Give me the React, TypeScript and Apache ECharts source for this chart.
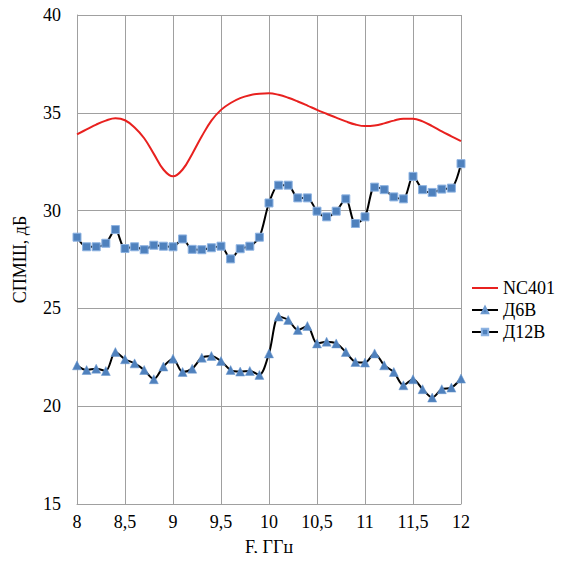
import React, { useEffect, useRef } from "react";
import * as echarts from "echarts";

const freqs = [8, 8.1, 8.2, 8.3, 8.4, 8.5, 8.6, 8.7, 8.8, 8.9, 9, 9.1, 9.2, 9.3, 9.4, 9.5, 9.6, 9.7, 9.8, 9.9, 10,
  10.1, 10.2, 10.3, 10.4, 10.5, 10.6, 10.7, 10.8, 10.9, 11, 11.1, 11.2, 11.3, 11.4, 11.5, 11.6, 11.7, 11.8, 11.9, 12];

const d12v = [28.64, 28.15, 28.15, 28.33, 29.03, 28.06, 28.15, 28.0, 28.23, 28.18, 28.15, 28.55, 28.02, 28.0, 28.1,
  28.18, 27.53, 28.05, 28.18, 28.64, 30.39, 31.3, 31.3, 30.65, 30.65, 29.97, 29.68, 29.97, 30.6, 29.34, 29.68,
  31.2, 31.07, 30.7, 30.6, 31.75, 31.07, 30.93, 31.1, 31.15, 32.4];

const d6v = [22.09, 21.85, 21.92, 21.8, 22.77, 22.4, 22.19, 21.85, 21.38, 22.03, 22.43, 21.75, 21.92, 22.48, 22.57,
  22.31, 21.85, 21.77, 21.8, 21.6, 22.7, 24.58, 24.41, 23.9, 24.1, 23.21, 23.3, 23.21, 22.77, 22.26, 22.23,
  22.7, 22.09, 21.75, 21.07, 21.38, 20.87, 20.44, 20.87, 20.95, 21.41];

const nc401 = [33.9, 34.15, 34.4, 34.6, 34.72, 34.62, 34.25, 33.7, 32.9, 32.1, 31.75, 32.1, 32.9, 33.8, 34.6,
  35.15, 35.5, 35.75, 35.9, 35.98, 36.0, 35.92, 35.77, 35.58, 35.37, 35.15, 34.95, 34.75, 34.56, 34.4, 34.32,
  34.35, 34.46, 34.6, 34.7, 34.7, 34.56, 34.32, 34.05, 33.8, 33.55];

const xTicks = { min: 8, max: 12, interval: 0.5 };
const yTicks = { min: 15, max: 40, interval: 5 };

const FONT = "serif";
const BLUE = "#4f81bd";
const RED = "#e8211f";

export default function App() {
  const ref = useRef<HTMLDivElement>(null);
  useEffect(() => {
    if (!ref.current) return;
    const chart = echarts.init(ref.current, undefined, { renderer: "svg" });
    const zip = (xs: number[], ys: number[]) => xs.map((x, i) => [x, ys[i]]);
    chart.setOption({
      animation: false,
      grid: { left: 77, right: 125, top: 15, bottom: 57 },
      legend: {
        orient: "vertical",
        left: 466,
        top: 274,
        itemWidth: 26,
        itemHeight: 8,
        itemGap: 4,
        textStyle: { fontFamily: FONT, fontSize: 18, color: "#000" },
        data: [
          { name: "NC401", icon: "path://M0,0H26V0.01H0Z M0,3H26V5H0Z M0,7.99H26V8H0Z" },
          "Д6В",
          "Д12В",
        ],
      },
      xAxis: {
        type: "value",
        min: xTicks.min,
        max: xTicks.max,
        interval: xTicks.interval,
        name: "F, ГГц",
        nameLocation: "middle",
        nameGap: 34,
        nameTextStyle: { fontFamily: FONT, fontSize: 18, color: "#000" },
        axisLine: { lineStyle: { color: "#a0a0a0" } },
        axisTick: { show: false },
        axisLabel: {
          fontFamily: FONT, fontSize: 18, color: "#000", margin: 9,
          formatter: (v: number) => String(v).replace(".", ","),
        },
        splitLine: { show: true, lineStyle: { color: "#a0a0a0", width: 1 } },
      },
      yAxis: {
        type: "value",
        min: yTicks.min,
        max: yTicks.max,
        interval: yTicks.interval,
        name: "СПМШ, дБ",
        nameLocation: "middle",
        nameGap: 48,
        nameTextStyle: { fontFamily: FONT, fontSize: 18, color: "#000" },
        axisLine: { show: true, lineStyle: { color: "#a0a0a0" } },
        axisTick: { show: false },
        axisLabel: { fontFamily: FONT, fontSize: 18, color: "#000", margin: 16 },
        splitLine: { show: true, lineStyle: { color: "#a0a0a0", width: 1 } },
      },
      series: [
        {
          name: "NC401",
          type: "line",
          smooth: 0.4,
          symbol: "none",
          data: zip(freqs, nc401),
          lineStyle: { color: RED, width: 2 },
          itemStyle: { color: RED },
        },
        {
          name: "Д6В",
          type: "line",
          smooth: 0.3,
          symbol: "triangle",
          symbolSize: 9,
          data: zip(freqs, d6v),
          lineStyle: { color: "#000", width: 2 },
          itemStyle: { color: BLUE, borderColor: "#6f9bd0", borderWidth: 0.5 },
        },
        {
          name: "Д12В",
          type: "line",
          smooth: 0.3,
          symbol: "rect",
          symbolSize: 8,
          data: zip(freqs, d12v),
          lineStyle: { color: "#000", width: 2 },
          itemStyle: { color: BLUE, borderColor: "#8db3e2", borderWidth: 1 },
        },
      ],
    });
    return () => chart.dispose();
  }, []);
  return <div ref={ref} style={{ width: 586, height: 561, margin: -8 }} />;
}
